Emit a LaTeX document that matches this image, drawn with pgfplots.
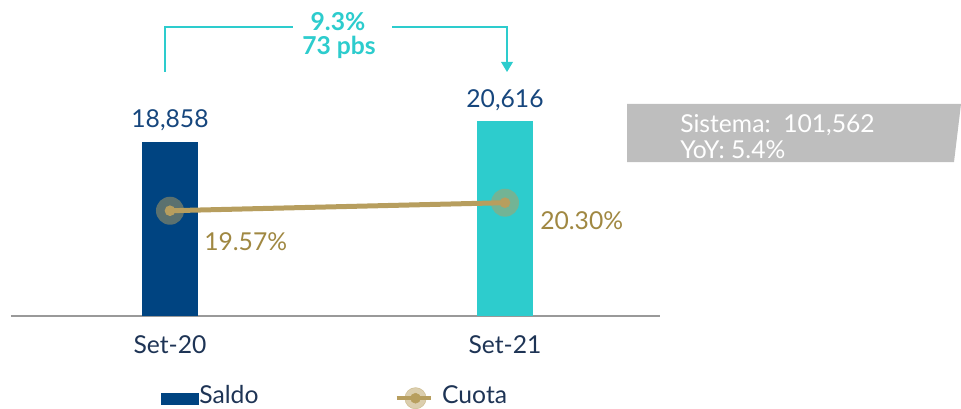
\documentclass[border=0pt]{standalone}
\usepackage{pgfplots}
\pgfplotsset{compat=1.18}
\usepackage{fontspec}
\setmainfont{Lato}
\definecolor{navy}{RGB}{0,68,129}
\definecolor{aqua}{RGB}{45,204,205}
\definecolor{gold}{RGB}{183,158,94}
\definecolor{golddark}{RGB}{160,136,66}
\definecolor{txtnavy}{RGB}{22,70,125}
\definecolor{ticknavy}{RGB}{30,52,85}
\definecolor{boxgray}{RGB}{190,190,190}
\newcommand{\lbl}{\fontsize{18.5}{22}\selectfont}
\begin{document}
\begin{tikzpicture}[x=0.75pt,y=0.75pt]
\path[use as bounding box] (0,0) rectangle (961,408);
\begin{axis}[
 at={(8.25pt,69pt)}, anchor=south west, scale only axis,
 width=486.75pt, height=211.5pt,
 xmin=-0.4746, xmax=1.4627, ymin=4290, ymax=27900,
 axis x line*=bottom, axis y line=none,
 x axis line style={-, draw=gray!80, line width=1.5pt},
 xtick={0,1}, xticklabels={Set-20,Set-21}, major tick length=0pt,
 x tick label style={font=\lbl, text=ticknavy, anchor=base, yshift=-27.75pt},
 ytick=\empty,
 clip=false,
 nodes near coords, point meta=explicit symbolic,
 every node near coord/.append style={font=\lbl, text=txtnavy, anchor=base, yshift=10.5pt},
]
\addplot[ybar, bar width=42pt, bar shift=0pt, fill=navy, draw=none] coordinates {(0,18858) [18,858]};
\addplot[ybar, bar width=42pt, bar shift=0pt, fill=aqua, draw=none] coordinates {(1,20616) [20,616]};
\end{axis}
\begin{axis}[
 at={(8.25pt,69pt)}, anchor=south west, scale only axis,
 width=486.75pt, height=211.5pt,
 xmin=-0.4746, xmax=1.4627, ymin=10, ymax=35.636,
 hide axis, clip=false,
 legend columns=2,
 legend style={at={(0.5,-0.284)}, anchor=center, draw=none, fill=none,
   font=\lbl, text=ticknavy,
   /tikz/every even column/.append style={column sep=100pt}},
]
\addlegendimage{legend image code/.code={\fill[navy] (0pt,-6.6pt) rectangle (27.75pt,1.65pt);}}
\addlegendentry{\hspace*{-1.5pt}Saldo}
\addplot[only marks, mark=*, mark size=10.5pt, mark options={fill=gold, draw opacity=0, fill opacity=0.5}, forget plot] coordinates {(0,19.57) (1,20.30)};
\addplot[gold, line width=3.75pt, forget plot] coordinates {(0,19.57) (1,20.30)};
\addplot[only marks, mark=*, mark size=4pt, mark options={fill=gold, draw opacity=0},
  legend image code/.code={
    \fill[gold, opacity=0.5] (14.25pt,-1.85pt) circle (8pt);
    \draw[gold, line width=3pt] (0pt,-1.85pt) -- (25.5pt,-1.85pt);
    \fill[gold] (14.25pt,-1.85pt) circle (3.75pt);}] coordinates {(0,19.57) (1,20.30)};
\addlegendentry{\hspace*{5.25pt}Cuota}
\node[anchor=base west, inner sep=0pt, font=\lbl, text=golddark] at (axis cs:0,19.57) [xshift=25.5pt, yshift=-30pt] {19.57\%};
\node[anchor=base west, inner sep=0pt, font=\lbl, text=golddark] at (axis cs:1,20.30) [xshift=26.25pt, yshift=-20.25pt] {20.30\%};
\end{axis}
% top annotation
\draw[aqua, line width=1.5pt] (165,336) -- (165,381) -- (293,381);
\draw[aqua, line width=1.5pt] (392,381) -- (507,381) -- (507,346);
\fill[aqua] (501,346) -- (513,346) -- (507,336) -- cycle;
\node[font=\lbl\bfseries, text=aqua, inner sep=0pt, anchor=base] at (338,377) {9.3\%};
\node[font=\lbl\bfseries, text=aqua, inner sep=0pt, anchor=base] at (339,353) {73 pbs};
% system box
\fill[boxgray] (627,304) -- (961,304) -- (954,246) -- (627,246) -- cycle;
\node[anchor=base west, inner sep=0pt, font=\lbl, text=white] at (680,276) {Sistema:\ \ 101,562};
\node[anchor=base west, inner sep=0pt, font=\lbl, text=white] at (680,250) {YoY: 5.4\%};
\end{tikzpicture}
\end{document}
